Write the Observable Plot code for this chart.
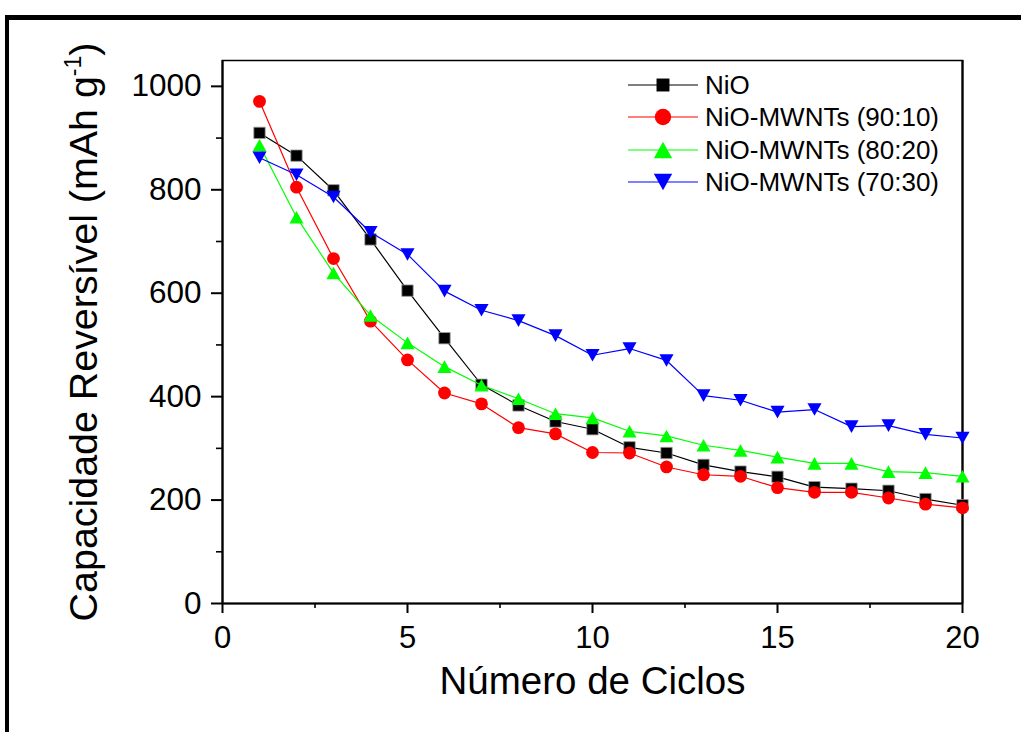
<!DOCTYPE html>
<html>
<head>
<meta charset="utf-8">
<script src="https://cdn.jsdelivr.net/npm/d3@7"></script>
<script src="https://cdn.jsdelivr.net/npm/@observablehq/plot@0.6"></script>
<style>
  body { margin: 0; background: #fff; font-family: "Liberation Sans", Arial, sans-serif; }
  #wrap { position: relative; width: 1021px; height: 732px; overflow: hidden; background: #fff; }
  #chart { position: absolute; left: 0; top: 0; }
  #border { position: absolute; left: 5px; top: 15px; width: 1100px; height: 800px;
            border-top: 5.5px solid #000; border-left: 4px solid #000; pointer-events: none; }
  #legend { position: absolute; left: 628px; top: 69px; }
  .row { display: flex; align-items: center; height: 32.3px; }
  .row span { font-size: 26px; margin-left: 7px; color: #000; line-height: 1; }
</style>
</head>
<body>
<div id="wrap">
  <div id="chart"></div>
  <div id="legend"></div>
  <div id="border"></div>
</div>
<script>
// ---- data ----
const cycles = [1, 2, 3, 4, 5, 6, 7, 8, 9, 10, 11, 12, 13, 14, 15, 16, 17, 18, 19, 20];
const nio      = [910, 866, 799, 704, 605, 513, 423, 383, 352, 337, 302, 291, 268, 255, 245, 225, 222, 218, 202, 190];
const mwnt9010 = [971, 805, 667, 546, 471, 407, 386, 340, 328, 292, 291, 264, 249, 246, 224, 215, 215, 204, 192, 185];
const mwnt8020 = [886, 747, 639, 557, 504, 458, 422, 396, 367, 359, 333, 324, 306, 296, 283, 271, 271, 255, 253, 246];
const mwnt7030 = [862, 829, 786, 718, 675, 604, 567, 547, 518, 480, 493, 470, 402, 393, 370, 375, 342, 344, 327, 320];

const seriesNames  = ["NiO", "NiO-MWNTs (90:10)", "NiO-MWNTs (80:20)", "NiO-MWNTs (70:30)"];
const seriesValues = [nio, mwnt9010, mwnt8020, mwnt7030];
const seriesColors = ["#000000", "#ff0000", "#00ff00", "#0000ff"];

const xMajorTicks = [0, 5, 10, 15, 20];
const xMinorTicks = [2.5, 7.5, 12.5, 17.5];
const yMajorTicks = [0, 200, 400, 600, 800, 1000];
const yMinorTicks = [100, 300, 500, 700, 900];

const xTitle = "Número de Ciclos";
const yTitle = "Capacidade Reversível (mAh g";
const yTitleSup = "-1";

// ---- symbols (centered on bounding box) ----
const triUp = {
  draw(ctx, size) {
    const r = Math.sqrt(size / Math.PI), hw = r * 1.12;
    ctx.moveTo(0, -r); ctx.lineTo(hw, r); ctx.lineTo(-hw, r); ctx.closePath();
  }
};
const triDown = {
  draw(ctx, size) {
    const r = Math.sqrt(size / Math.PI), hw = r * 1.12;
    ctx.moveTo(0, r); ctx.lineTo(hw, -r); ctx.lineTo(-hw, -r); ctx.closePath();
  }
};
const seriesSymbols = ["square", "circle", triUp, triDown];
const seriesR = [6.4, 6.4, 6.3, 6.3];

const rows = seriesNames.flatMap((name, k) =>
  cycles.map((c, i) => ({ series: name, cycle: c, value: seriesValues[k][i] })));

const font = "'Liberation Sans', Arial, sans-serif";
const marks = [];
seriesNames.forEach((name, k) => {
  const d = rows.filter(r => r.series === name);
  marks.push(Plot.line(d, { x: "cycle", y: "value", stroke: seriesColors[k], strokeWidth: 1.2 }));
  marks.push(Plot.dot(d, {
    x: "cycle", y: "value", symbol: seriesSymbols[k], r: seriesR[k],
    fill: seriesColors[k], stroke: k === 0 ? "#999" : "none", strokeWidth: 0.8
  }));
});

const chart = Plot.plot({
  width: 1021,
  height: 732,
  marginLeft: 222,
  marginRight: 59,
  marginTop: 60,
  marginBottom: 129,
  style: { fontFamily: font, background: "transparent", color: "#000" },
  x: { domain: [0, 20], label: null },
  y: { domain: [0, 1050], label: null },
  marks: [
    Plot.axisX({ ticks: xMajorTicks, tickSize: 10, tickPadding: 12, fontSize: 31, strokeWidth: 2, tickFormat: d3.format("d"), label: null }),
    Plot.axisX({ ticks: xMinorTicks, tickSize: 5, strokeWidth: 1.6, tickFormat: () => "", label: null }),
    Plot.axisY({ ticks: yMajorTicks, tickSize: 11, tickPadding: 10, fontSize: 31.5, strokeWidth: 2, tickFormat: d3.format("d"), label: null }),
    Plot.axisY({ ticks: yMinorTicks, tickSize: 6, strokeWidth: 1.6, tickFormat: () => "", label: null }),
    Plot.frame({ strokeWidth: 1.5 }),
    Plot.ruleX([0, 20], { strokeWidth: 2.2 }),
    Plot.ruleY([0], { strokeWidth: 2.2 }),
    Plot.text([xTitle], { frameAnchor: "bottom", dy: 90, lineAnchor: "bottom", fontSize: 38.5, text: d => d }),
    ...marks
  ]
});
document.getElementById("chart").appendChild(chart);

// rotated y title with superscript
const svg = d3.select(chart);
const t = svg.append("text")
  .attr("transform", "translate(97,332) rotate(-90)")
  .attr("text-anchor", "middle")
  .attr("fill", "#000")
  .style("font-family", font)
  .style("font-size", "39.4px");
t.append("tspan").text(yTitle);
t.append("tspan").attr("dy", -16).style("font-size", "23px").text(yTitleSup);
t.append("tspan").attr("dy", 16).text(")");

// legend
const legend = d3.select("#legend");
seriesNames.forEach((name, k) => {
  const row = legend.append("div").attr("class", "row");
  const s = row.append("svg").attr("width", 70).attr("height", 32);
  s.append("line").attr("x1", 0).attr("x2", 70).attr("y1", 16).attr("y2", 16)
    .attr("stroke", seriesColors[k]).attr("stroke-width", 1.2);
  const sym = typeof seriesSymbols[k] === "string"
    ? (seriesSymbols[k] === "square" ? d3.symbolSquare : d3.symbolCircle)
    : seriesSymbols[k];
  const rr = k === 0 ? 7.3 : 8.2;
  s.append("path")
    .attr("d", d3.symbol(sym, rr * rr * Math.PI)())
    .attr("transform", "translate(35,16)")
    .attr("fill", seriesColors[k]);
  row.append("span").text(name);
});
</script>
</body>
</html>
